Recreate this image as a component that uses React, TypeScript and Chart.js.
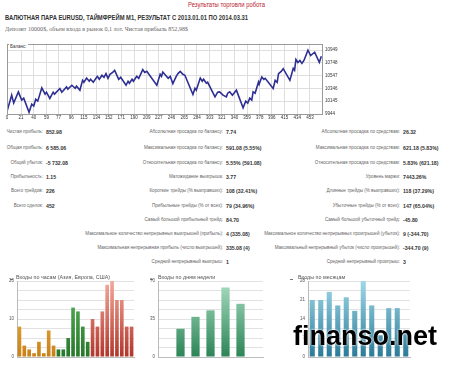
import React, { useEffect, useLayoutEffect, useRef } from "react";
import { Chart, registerables } from "chart.js";
Chart.register(...registerables);

// ---------- data ----------
const balanceDeals = [0, 7, 10, 17, 22, 25, 33, 37, 40, 43, 46, 52, 57, 59, 64, 69, 71, 79, 82, 89, 91, 97, 102, 104, 109, 113, 115, 119, 123, 125, 129, 135, 138, 142, 145, 148, 151, 154, 158, 161, 167, 170, 178, 181, 183, 187, 189, 194, 197, 203, 206, 209, 224, 229, 231, 233, 241, 244, 248, 253, 256, 259, 263, 266, 278, 281, 283, 289, 292, 294, 298, 300, 311, 315, 318, 323, 328, 330, 333, 337, 343, 353, 357, 360, 363, 366, 368, 371, 376, 377, 381, 384, 386, 398, 401, 404, 406, 410, 413, 423, 428, 430, 432, 435, 438, 441, 444, 450, 454, 460, 467, 470];
const balanceValues = [9985, 10241, 10116, 10293, 10163, 10194, 9971, 10100, 10069, 10178, 10147, 10355, 10257, 10288, 10189, 10288, 10257, 10346, 10288, 10371, 10335, 10397, 10350, 10382, 10319, 10475, 10444, 10511, 10460, 10491, 10444, 10538, 10491, 10554, 10522, 10580, 10507, 10569, 10600, 10632, 10491, 10522, 10397, 10460, 10429, 10491, 10460, 10538, 10507, 10643, 10600, 10616, 10397, 10569, 10538, 10605, 10507, 10538, 10424, 10538, 10585, 10616, 10569, 10554, 10252, 10350, 10319, 10511, 10460, 10491, 10429, 10444, 10214, 10288, 10293, 10241, 10214, 10272, 10293, 10241, 10319, 10042, 10147, 10116, 10194, 10163, 10293, 10272, 10449, 10413, 10527, 10491, 10507, 10346, 10475, 10444, 10580, 10616, 10658, 10475, 10663, 10632, 10804, 10757, 10788, 10741, 10788, 10949, 10866, 10918, 10757, 10853];
const balanceXTicks = [0, 21, 40, 59, 77, 96, 115, 134, 152, 171, 190, 209, 227, 246, 265, 284, 303, 321, 340, 359, 378, 396, 415, 434, 453];
const balanceYTicks = [9944, 10145, 10346, 10547, 10748, 10949];

const hourLabels = ["0", "1", "2", "3", "4", "5", "6", "7", "8", "9", "10", "11", "12", "13", "14", "15", "16", "17", "18", "19", "20", "21", "22", "23"];
const hourEntries = [8, 3, 2, 1, 4, 1, 7, 3, 2, 2, 5, 13, 12, 8, 4, 10, 8, 12, 19, 20, 15, 15, 8, 8];
const hourYTicks = [0, 10, 20];

const dayLabels = ["Sun", "Mon", "Tue", "Wed", "Thu", "Fri", "Sat"];
const dayEntries = [0, 26, 37, 43, 64, 49, 0];
const dayYTicks = [0, 35, 70];

const monthLabels = ["Jan", "Feb", "Mar", "Apr", "May", "Jun", "Jul", "Aug", "Sep", "Oct", "Nov", "Dec"];
const monthEntries = [21, 21, 24, 19, 22, 17, 28, 19, 8, 18, 18, 10];
const monthYTicks = [0, 7, 14, 21, 28];

const leftLabels = ["Чистая прибыль:", "Общая прибыль:", "Общий убыток:", "Прибыльность:", "Всего трейдов:", "Всего сделок:"];
const leftValues = ["852.98", "6 585.06", "-5 732.08", "1.15", "226", "452"];
const midLabels = ["Абсолютная просадка по балансу:", "Максимальная просадка по балансу:", "Относительная просадка по балансу:", "Матожидание выигрыша:", "Короткие трейды (% выигравших):", "Прибыльные трейды (% от всех):", "Самый большой прибыльный трейд:", "Максимальное количество непрерывных выигрышей (прибыль):", "Максимальная непрерывная прибыль (число выигрышей):", "Средний непрерывный выигрыш:"];
const midValues = ["7.74", "591.08 (5.55%)", "5.55% (591.08)", "3.77", "108 (32.41%)", "79 (34.96%)", "84.70", "4 (335.08)", "335.08 (4)", "1"];
const rightLabels = ["Абсолютная просадка по средствам:", "Максимальная просадка по средствам:", "Относительная просадка по средствам:", "Уровень маржи:", "Длинные трейды (% выигравших):", "Убыточные трейды (% от всех):", "Самый большой убыточный трейд:", "Максимальное количество непрерывных проигрышей (убыток):", "Максимальный непрерывный убыток (число проигрышей):", "Средний непрерывный проигрыш:"];
const rightValues = ["26.32", "621.18 (5.83%)", "5.83% (621.18)", "7443.26%", "118 (37.29%)", "147 (65.04%)", "-45.80", "9 (-344.70)", "-344.70 (9)", "3"];

// ---------- layout ----------
const ROW_Y = [132, 147.5, 163, 177, 191, 205.5, 219.5, 234, 247.5, 262];
const FONT = "'Liberation Sans', Arial, sans-serif";

function FitText(props: { text: string; left: number; cy: number; width: number; style?: any; center?: boolean }) {
  const ref = useRef<HTMLDivElement>(null);
  useLayoutEffect(() => {
    const el = ref.current;
    if (!el) return;
    el.style.transform = "none";
    const w = el.getBoundingClientRect().width;
    if (w > 0) el.style.transform = `scaleX(${props.width / w})`;
  }, [props.text, props.width]);
  const fs = (props.style && props.style.fontSize) || 7;
  const lh = Math.ceil(fs * 1.4);
  const left = props.center ? props.left - props.width / 2 : props.left;
  return (
    <div
      ref={ref}
      style={{ position: "absolute", left, top: props.cy - lh / 2, lineHeight: lh + "px", whiteSpace: "nowrap", transformOrigin: "left center", ...props.style }}
    >
      {props.text}
    </div>
  );
}

const frame = {
  id: "frame",
  afterDraw(chart: any) {
    const { ctx, chartArea } = chart;
    ctx.save();
    ctx.strokeStyle = "#9a9a9a";
    ctx.lineWidth = 1;
    ctx.strokeRect(Math.round(chartArea.left) + 0.5, Math.round(chartArea.top) + 0.5, Math.round(chartArea.right - chartArea.left), Math.round(chartArea.bottom - chartArea.top));
    ctx.restore();
  },
};

function grad(chart: any, top: string, bottom: string) {
  const area = chart.chartArea;
  if (!area) return bottom;
  const g = chart.ctx.createLinearGradient(0, area.top, 0, area.bottom);
  g.addColorStop(0, top);
  g.addColorStop(1, bottom);
  return g;
}

function BalanceChart() {
  const ref = useRef<HTMLCanvasElement>(null);
  useEffect(() => {
    const chart = new Chart(ref.current!, {
      type: "line",
      data: {
        datasets: [
          {
            data: balanceDeals.map((x, i) => ({ x, y: balanceValues[i] })),
            borderColor: "#2e2f93",
            borderWidth: 1.6,
            pointRadius: 0,
            tension: 0,
          },
        ],
      },
      options: {
        animation: false,
        responsive: false,
        layout: { padding: { left: 7, top: 5, right: 0, bottom: 0 } },
        plugins: { legend: { display: false }, tooltip: { enabled: false } },
        scales: {
          x: {
            type: "linear",
            min: 0,
            max: 471,
            afterBuildTicks: (s: any) => {
              s.ticks = balanceXTicks.map((v) => ({ value: v }));
            },
            afterFit: (s: any) => {
              s.height = 10;
            },
            ticks: { font: { size: 4.5, family: FONT }, color: "#333", padding: 1, maxRotation: 0, autoSkip: false, callback: (v: any) => String(v) },
            grid: { color: "#dedede", drawTicks: false },
            border: { display: false },
          },
          y: {
            position: "right",
            min: 9944,
            max: 11052,
            afterBuildTicks: (s: any) => {
              s.ticks = balanceYTicks.map((v) => ({ value: v }));
            },
            afterFit: (s: any) => {
              s.width = 28;
            },
            ticks: { font: { size: 4.5, family: FONT }, color: "#333", padding: 3, callback: (v: any) => String(v) },
            grid: { color: "#dedede", drawTicks: false },
            border: { display: false },
          },
        },
      },
      plugins: [frame],
    });
    return () => chart.destroy();
  }, []);
  return <canvas ref={ref} width={350} height={86} style={{ position: "absolute", left: 0, top: 38 }} />;
}

function BarChart(props: {
  labels: string[];
  values: number[];
  yTicks: number[];
  max: number;
  gridStep: number;
  left: number;
  width: number;
  axisW: number;
  padRight: number;
  barPct: number;
  colors: (i: number, chart: any) => any;
}) {
  const ref = useRef<HTMLCanvasElement>(null);
  useEffect(() => {
    const grid: number[] = [];
    for (let v = 0; v <= props.max + 1e-9; v += props.gridStep) grid.push(v);
    const chart = new Chart(ref.current!, {
      type: "bar",
      data: {
        labels: props.labels,
        datasets: [
          {
            data: props.values,
            backgroundColor: (c: any) => props.colors(c.dataIndex, c.chart),
            barPercentage: props.barPct,
            categoryPercentage: 1,
            borderWidth: 0,
          },
        ],
      },
      options: {
        animation: false,
        responsive: false,
        layout: { padding: { left: 0, top: 9, right: props.padRight, bottom: 0 } },
        plugins: { legend: { display: false }, tooltip: { enabled: false } },
        scales: {
          x: {
            afterFit: (s: any) => {
              s.height = 10;
            },
            ticks: { font: { size: 4.5, family: FONT }, color: "#555", padding: 2, maxRotation: 0, autoSkip: false },
            grid: { display: false },
            border: { color: "#bbb" },
          },
          y: {
            min: 0,
            max: props.max,
            afterBuildTicks: (s: any) => {
              s.ticks = grid.map((v) => ({ value: v }));
            },
            afterFit: (s: any) => {
              s.width = props.axisW;
            },
            ticks: {
              font: { size: 4.5, family: FONT },
              color: "#555",
              padding: 3,
              callback: (v: any) => (props.yTicks.includes(Number(v)) ? String(v) : ""),
            },
            grid: { color: "#e2e2e2", drawTicks: false },
            border: { color: "#bbb" },
          },
        },
      },
    });
    return () => chart.destroy();
  }, []);
  return <canvas ref={ref} width={props.width} height={95} style={{ position: "absolute", left: props.left, top: 272 }} />;
}

const labelStyle = { fontFamily: FONT, fontSize: 4.6, color: "#666", lineHeight: "8px", whiteSpace: "nowrap" as const };
const valueStyle = { fontFamily: FONT, fontSize: 5.2, color: "#333", fontWeight: 700, lineHeight: "8px", whiteSpace: "nowrap" as const };

function StatColumn(props: { labels: string[]; values: string[]; right: number }) {
  return (
    <>
      {props.labels.map((l, i) => (
        <React.Fragment key={i}>
          <div style={{ position: "absolute", right: 450 - props.right, top: ROW_Y[i] - 4, ...labelStyle }}>{l}</div>
          <div style={{ position: "absolute", left: props.right + 3, top: ROW_Y[i] - 4, ...valueStyle }}>{props.values[i]}</div>
        </React.Fragment>
      ))}
    </>
  );
}

const titleStyle = { position: "absolute" as const, top: 274, fontSize: 5.4, lineHeight: "7px", color: "#555", whiteSpace: "nowrap" as const };
const markStyle = { position: "absolute" as const, top: 279, width: 3, height: 1, background: "#777" };

export default function App() {
  return (
    <div style={{ position: "absolute", left: 0, top: 0, width: 450, height: 367, background: "#fff", overflow: "hidden", fontFamily: FONT }}>
      <FitText text="Результаты торговли робота" left={226} cy={5} width={77} center style={{ fontSize: 7, color: "#b8232f" }} />
      <FitText
        text="ВАЛЮТНАЯ ПАРА EURUSD, ТАЙМФРЕЙМ M1, РЕЗУЛЬТАТ С 2013.01.01 ПО 2014.03.31"
        left={5}
        cy={18}
        width={243}
        style={{ fontSize: 8, fontWeight: 700, color: "#333" }}
      />
      <FitText
        text="Депозит 10000$, объем входа в рынок 0,1 лот. Чистая прибыль 852,98$"
        left={5}
        cy={29}
        width={183}
        style={{ fontSize: 7, color: "#666", fontFamily: "'Liberation Serif', 'DejaVu Serif', serif" }}
      />

      <BalanceChart />
      <div style={{ position: "absolute", left: 9, top: 44, fontSize: 4.5, lineHeight: "6px", color: "#333", background: "#fff", padding: "0 1px" }}>Баланс:</div>

      <StatColumn labels={leftLabels} values={leftValues} right={43} />
      <StatColumn labels={midLabels} values={midValues} right={223} />
      <StatColumn labels={rightLabels} values={rightValues} right={400} />

      <div style={{ ...markStyle, left: 10 }} />
      <div style={{ ...markStyle, left: 150 }} />
      <div style={{ ...markStyle, left: 290 }} />
      <div style={{ ...titleStyle, left: 16 }}>Входы по часам (Азия, Европа, США)</div>
      <div style={{ ...titleStyle, left: 158 }}>Входы по дням недели</div>
      <div style={{ ...titleStyle, left: 298 }}>Входы по месяцам</div>

      <BarChart
        labels={hourLabels}
        values={hourEntries}
        yTicks={hourYTicks}
        max={20}
        gridStep={2.5}
        left={0}
        width={140}
        axisW={17}
        padRight={6}
        barPct={0.75}
        colors={(i, chart) =>
          i <= 7 ? grad(chart, "#f7c55c", "#c97f16") : i <= 14 ? grad(chart, "#5dbb5d", "#27772b") : grad(chart, "#f4a89a", "#b2352a")
        }
      />
      <BarChart
        labels={dayLabels}
        values={dayEntries}
        yTicks={dayYTicks}
        max={70}
        gridStep={8.75}
        left={145}
        width={125}
        axisW={13}
        padRight={7}
        barPct={0.55}
        colors={(_i, chart) => grad(chart, "#a9dec2", "#2b8456")}
      />
      <BarChart
        labels={monthLabels}
        values={monthEntries}
        yTicks={monthYTicks}
        max={28}
        gridStep={3.5}
        left={295}
        width={125}
        axisW={13}
        padRight={10}
        barPct={0.6}
        colors={(_i, chart) => grad(chart, "#9fd8e8", "#2a7a98")}
      />

      <div
        style={{
          position: "absolute",
          left: 293,
          top: 323,
          fontSize: 27,
          lineHeight: "27px",
          fontWeight: 700,
          color: "#000",
          whiteSpace: "nowrap",
          textShadow: "0 0 2px #fff, 0 0 2px #fff",
        }}
      >
        finanso.net
      </div>
    </div>
  );
}
